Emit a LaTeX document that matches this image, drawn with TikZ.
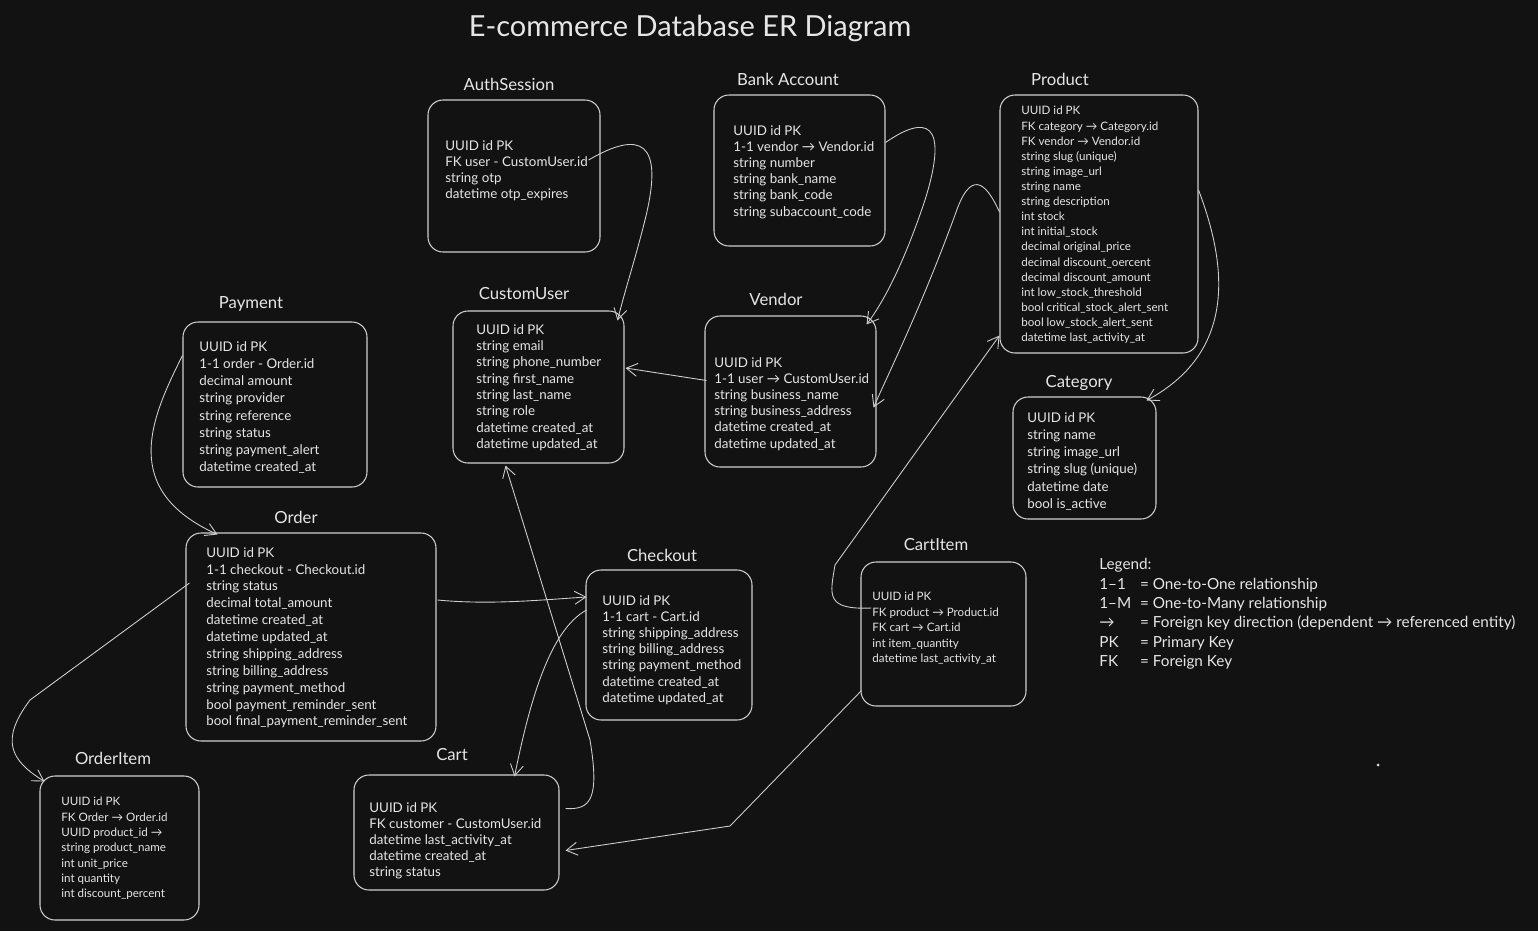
\documentclass[tikz,border=0pt]{standalone}
\usepackage{fontspec}
\setmainfont{Lato}
\usetikzlibrary{arrows.meta,fit,calc}
\definecolor{bgdark}{HTML}{121212}
\definecolor{inkline}{HTML}{CFCFCF}
\definecolor{inktext}{HTML}{E6E6E6}

\begin{document}
\begin{tikzpicture}[
    x=0.02cm, y=-0.02cm,
    entbox/.style={draw=inkline, rounded corners=3mm, line width=0.6pt, inner sep=0pt},
    enttitle/.style={text=inktext, font=\fontsize{9.5}{11}\selectfont, inner sep=0pt},
    enttext/.style={text=inktext, font=\fontsize{7.6}{#1}\selectfont, align=left,
        anchor=north west, inner sep=0pt},
    smalltext/.style={text=inktext, font=\fontsize{6.6}{#1}\selectfont, align=left,
        anchor=north west, inner sep=0pt},
    relation/.style={draw=inkline, line width=0.5pt, -{Straight Barb[length=2.2mm,width=2.6mm]}},
]
\useasboundingbox (0,0) rectangle (1538,931);
\fill[bgdark] (0,0) rectangle (1538,931);

% title
\node (title) [text=inktext, font=\fontsize{16.5}{20}\selectfont, inner sep=0pt] at (690,28) {E-commerce Database ER Diagram};

% entity boxes
\node (auth)     [entbox, fit={(428,100)(600,252)}] {};
\node (bank)     [entbox, fit={(714,95)(885,246)}] {};
\node (product)  [entbox, fit={(1000,95)(1198,353)}] {};
\node (cuser)    [entbox, fit={(453,311)(624,463)}] {};
\node (vendor)   [entbox, fit={(705,316)(876,467)}] {};
\node (payment)  [entbox, fit={(183,322)(367,487)}] {};
\node (category) [entbox, fit={(1013,397)(1156,519)}] {};
\node (order)    [entbox, fit={(186,533)(436,741)}] {};
\node (checkout) [entbox, fit={(586,570)(752,720)}] {};
\node (cartitem) [entbox, fit={(861,562)(1026,706)}] {};
\node (orderitem)[entbox, fit={(40,776)(199,920)}] {};
\node (cart)     [entbox, fit={(354,775)(559,890)}] {};

% entity titles
\node (authT)      [enttitle] at (509,84)  {AuthSession};
\node (bankT)      [enttitle] at (788,79)  {Bank Account};
\node (productT)   [enttitle] at (1060,79) {Product};
\node (cuserT)     [enttitle] at (524,294) {CustomUser};
\node (vendorT)    [enttitle] at (776,299) {Vendor};
\node (paymentT)   [enttitle] at (251,304) {Payment};
\node (categoryT)  [enttitle] at (1079,383) {Category};
\node (orderT)     [enttitle] at (296,517) {Order};
\node (checkoutT)  [enttitle] at (662,555) {Checkout};
\node (cartitemT)  [enttitle] at (936,545) {CartItem};
\node (orderitemT) [enttitle] at (113,758) {OrderItem};
\node (cartT)      [enttitle] at (452,755) {Cart};

% fields
\node (authF) [enttext=9.2] at (445,140) {UUID id PK\\FK user - CustomUser.id\\string otp\\datetime otp\_expires};
\node (bankF) [enttext=9.2] at (733,125) {UUID id PK\\1-1 vendor → Vendor.id\\string number\\string bank\_name\\string bank\_code\\string subaccount\_code};
\node (productF) [smalltext=8.6] at (1021,106) {UUID id PK\\FK category → Category.id\\FK vendor → Vendor.id\\string slug (unique)\\string image\_url\\string name\\string description\\int stock\\int initial\_stock\\decimal original\_price\\decimal discount\_oercent\\decimal discount\_amount\\int low\_stock\_threshold\\bool critical\_stock\_alert\_sent\\bool low\_stock\_alert\_sent\\datetime last\_activity\_at};
\node (cuserF) [enttext=9.3] at (476,324) {UUID id PK\\string email\\string phone\_number\\string first\_name\\string last\_name\\string role\\datetime created\_at\\datetime updated\_at};
\node (vendorF) [enttext=9.2] at (714,357) {UUID id PK\\1-1 user → CustomUser.id\\string business\_name\\string business\_address\\datetime created\_at\\datetime updated\_at};
\node (paymentF) [enttext=9.8] at (199,341) {UUID id PK\\1-1 order - Order.id\\decimal amount\\string provider\\string reference\\string status\\string payment\_alert\\datetime created\_at};
\node (categoryF) [enttext=9.8] at (1027,412) {UUID id PK\\string name\\string image\_url\\string slug (unique)\\datetime date\\bool is\_active};
\node (orderF) [enttext=9.6] at (206,547) {UUID id PK\\1-1 checkout - Checkout.id\\string status\\decimal total\_amount\\datetime created\_at\\datetime updated\_at\\string shipping\_address\\string billing\_address\\string payment\_method\\bool payment\_reminder\_sent\\bool final\_payment\_reminder\_sent};
\node (checkoutF) [enttext=9.2] at (602,595) {UUID id PK\\1-1 cart - Cart.id\\string shipping\_address\\string billing\_address\\string payment\_method\\datetime created\_at\\datetime updated\_at};
\node (cartitemF) [smalltext=8.8] at (872,592) {UUID id PK\\FK product → Product.id\\FK cart → Cart.id\\int item\_quantity\\datetime last\_activity\_at};
\node (orderitemF) [smalltext=8.7] at (61,797) {UUID id PK\\FK Order → Order.id\\UUID product\_id →\\string product\_name\\int unit\_price\\int quantity\\int discount\_percent};
\node (cartF) [enttext=9.2] at (369,802) {UUID id PK\\FK customer - CustomUser.id\\datetime last\_activity\_at\\datetime created\_at\\string status};

% relations
\draw[relation] ($(auth.east)+(-12,-16)$) .. controls (640,130) and (665,140) .. (645,220)
    .. controls (635,260) and (625,290) .. ($(cuser.north east)+(-7,10)$);
\draw[relation] ($(bank.east)+(0,-28)$) .. controls (925,115) and (950,120) .. (925,200)
    .. controls (905,260) and (885,300) .. ($(vendor.north east)+(-10,9)$);
\draw[relation] ($(product.west)+(0,-12)$) .. controls (985,180) and (970,170) .. (955,215)
    .. controls (920,310) and (890,370) .. ($(vendor.east)+(-3,16)$);
\draw[relation] ($(product.east)+(0,-34)$) .. controls (1225,260) and (1240,350) .. ($(category.north east)+(-10,4)$);
\draw[relation] ($(vendor.west)+(2,-11)$) -- ($(cuser.east)+(1,-19)$);
\draw[relation] ($(payment.west)+(0,-49)$) .. controls (150,420) and (120,490) .. ($(order.north west)+(32,2)$);
\draw[relation] ($(order.west)+(4,-54)$) -- (30,700) .. controls (0,740) and (10,760) .. ($(orderitem.north west)+(5,6)$);
\draw[relation] ($(order.east)+(1,-37)$) .. controls (490,605) and (540,600) .. ($(checkout.west)+(1,-48)$);
\draw[relation] ($(checkout.west)+(1,-35)$) .. controls (550,630) and (530,700) .. ($(cart.north)+(58,2)$);
\draw[relation] ($(cart.east)+(6,-24)$) .. controls (590,810) and (600,800) .. (590,740)
    -- ($(cuser.south)+(-33,2)$);
\draw[relation] ($(cartitem.west)+(11,-26)$) .. controls (825,610) and (830,595) .. (835,565)
    -- ($(product.south west)+(0,-18)$);
\draw[relation] ($(cartitem.south west)+(1,-16)$) -- (730,826) -- ($(cart.east)+(6,18)$);

% legend
\node (legend) [text=inktext, font=\fontsize{8.7}{11}\selectfont, align=left, anchor=north west, inner sep=0pt] at (1099,556)
  {\begin{tabular}{@{}l@{\hspace{5pt}}l@{}}
   \multicolumn{2}{@{}l}{Legend:}\\
   1–1 & = One-to-One relationship\\
   1–M & = One-to-Many relationship\\
   → & = Foreign key direction (dependent → referenced entity)\\
   PK & = Primary Key\\
   FK & = Foreign Key
   \end{tabular}};
\fill[inkline!60] (1378,765) circle (1.5);
\end{tikzpicture}
\end{document}
